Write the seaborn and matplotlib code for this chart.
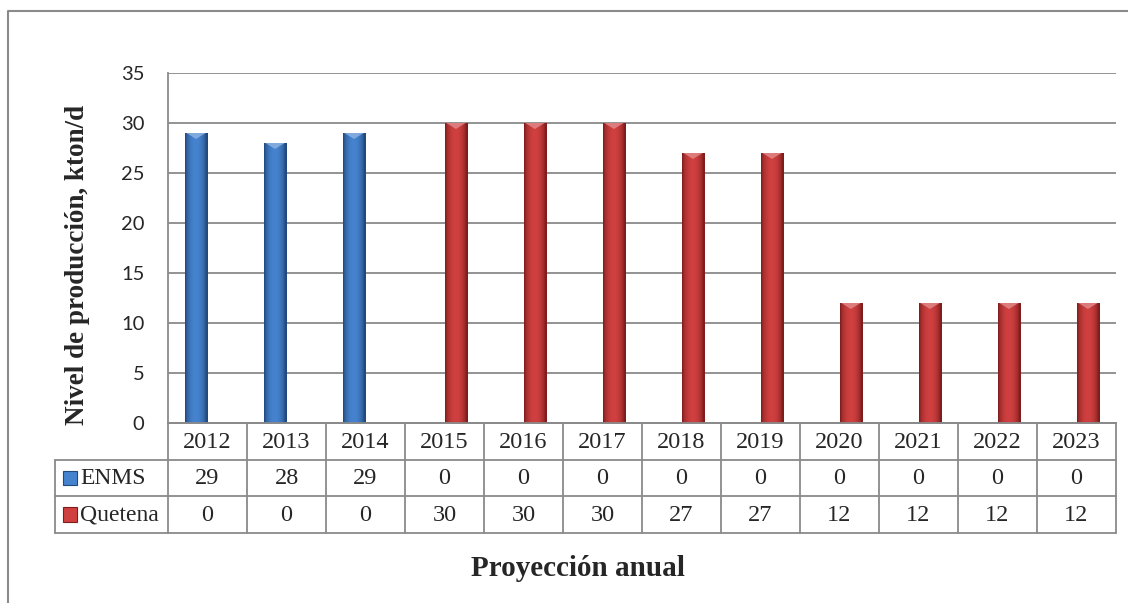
import numpy as np
import pandas as pd
import matplotlib
matplotlib.use("Agg")
import matplotlib.pyplot as plt
import seaborn as sns
from matplotlib.colors import to_rgb
from matplotlib.patches import Rectangle, Polygon
from matplotlib.lines import Line2D

# datos
anios = ['2012', '2013', '2014', '2015', '2016', '2017',
         '2018', '2019', '2020', '2021', '2022', '2023']
enms = [29, 28, 29, 0, 0, 0, 0, 0, 0, 0, 0, 0]
quetena = [0, 0, 0, 30, 30, 30, 27, 27, 12, 12, 12, 12]
series = ['ENMS', 'Quetena']

# colores (oscuro de borde, claro del centro)
colores = {'ENMS': ('#22497d', '#4683cf'), 'Quetena': ('#7f1d1d', '#d04040')}

df = pd.DataFrame({'anio': anios * 2,
                   'serie': ['ENMS'] * len(anios) + ['Quetena'] * len(anios),
                   'valor': enms + quetena})

sns.set_style('white')
W, H = 1128, 603
fig = plt.figure(figsize=(W / 100, H / 100), dpi=100)
fig.patch.set_facecolor('white')


def caja(x0, y0, x1, y1):
    return [x0 / W, 1 - y1 / H, (x1 - x0) / W, (y1 - y0) / H]


ax = fig.add_axes(caja(168, 73, 1116, 423))
sns.barplot(data=df, x='anio', y='valor', hue='serie',
            palette={k: v[1] for k, v in colores.items()},
            width=0.58, saturation=1, legend=False, ax=ax)
ax.set_xlim(-0.5, len(anios) - 0.5)
ax.set_ylim(0, 35)

# sombreado tipo cilindro de las barras
t = np.linspace(0, 1, 60)
perfil = np.sin(np.pi * np.clip(t * 1.1 - 0.02, 0, 1)) ** 0.6
for cont, serie in zip(ax.containers, series):
    oscuro, claro = [np.array(to_rgb(c)) for c in colores[serie]]
    grad = oscuro[None, :] + (claro - oscuro)[None, :] * perfil[:, None]
    grad = grad[None, :, :]
    for p in cont.patches:
        h = p.get_height()
        if h <= 0:
            continue
        x, w = p.get_x(), p.get_width()
        p.set_edgecolor('none')
        im = ax.imshow(grad, extent=[x, x + w, 0, h], aspect='auto',
                       zorder=3, interpolation='bilinear')
        im.set_clip_path(p)
        tapa = claro * 0.6 + 0.4
        ax.add_patch(Polygon([[x + w * 0.08, h], [x + w * 0.92, h],
                              [x + w * 0.5, h - 0.6]],
                             closed=True, facecolor=tapa, edgecolor='none',
                             alpha=0.8, zorder=4))
ax.set_xlim(-0.5, len(anios) - 0.5)
ax.set_ylim(0, 35)

ax.set_yticks(range(0, 36, 5))
ax.yaxis.grid(True, color='#8a8a8a', lw=1.3)
ax.set_axisbelow(True)
ax.set_xticks([])
ax.set_xlabel('')
ax.set_ylabel('')
ax.tick_params(axis='y', length=0, pad=17, labelsize=14.5)
for lab in ax.get_yticklabels():
    lab.set_family('Lato')
for s in ['top', 'right']:
    ax.spines[s].set_visible(False)
for s in ['left', 'bottom']:
    ax.spines[s].set_color('#8a8a8a')
    ax.spines[s].set_linewidth(1.3)

# tabla de datos
tab = fig.add_axes(caja(55, 423, 1116, 533))
izq = -0.5 - (168 - 55) / 79.0
der = len(anios) - 0.5
tab.set_xlim(izq, der)
tab.set_ylim(3, 0)
tab.set_axis_off()
gris = dict(color='#8a8a8a', lw=1.3, clip_on=False)
tab.plot([-0.5, der], [0, 0], **gris)
for yy in [1, 2, 3]:
    tab.plot([izq, der], [yy, yy], **gris)
for k in range(len(anios) + 1):
    tab.plot([k - 0.5, k - 0.5], [0, 3], **gris)
tab.plot([izq, izq], [1, 3], **gris)
fuente = dict(family='Liberation Serif', fontsize=17.5, ha='center', va='center')
for i, a in enumerate(anios):
    tab.text(i, 0.52, a, **fuente)
    tab.text(i, 1.52, str(enms[i]), **fuente)
    tab.text(i, 2.52, str(quetena[i]), **fuente)
for fila, (serie, vals) in enumerate(zip(series, [enms, quetena])):
    tab.add_patch(Rectangle((izq + 0.1, fila + 1.3), 0.18, 0.4,
                            facecolor=colores[serie][1],
                            edgecolor=colores[serie][0], lw=0.8))
    tab.text(izq + 0.32, fila + 1.52, serie, family='Liberation Serif',
             fontsize=17, ha='left', va='center')

# titulos de ejes
fig.text(78 / W, 1 - 265 / H, 'Nivel de producción, kton/d', rotation=90,
         ha='center', va='center', family='Liberation Serif',
         fontweight='bold', fontsize=19.5)
fig.text(578 / W, 1 - 569 / H, 'Proyección anual', ha='center', va='center',
         family='Liberation Serif', fontweight='bold', fontsize=21)

# marco exterior
fig.add_artist(Line2D([8 / W, 8 / W, 1], [0, 1 - 11 / H, 1 - 11 / H],
                      transform=fig.transFigure, color='#8a8a8a', lw=1.5))

fig.savefig('out.png', dpi=100)
